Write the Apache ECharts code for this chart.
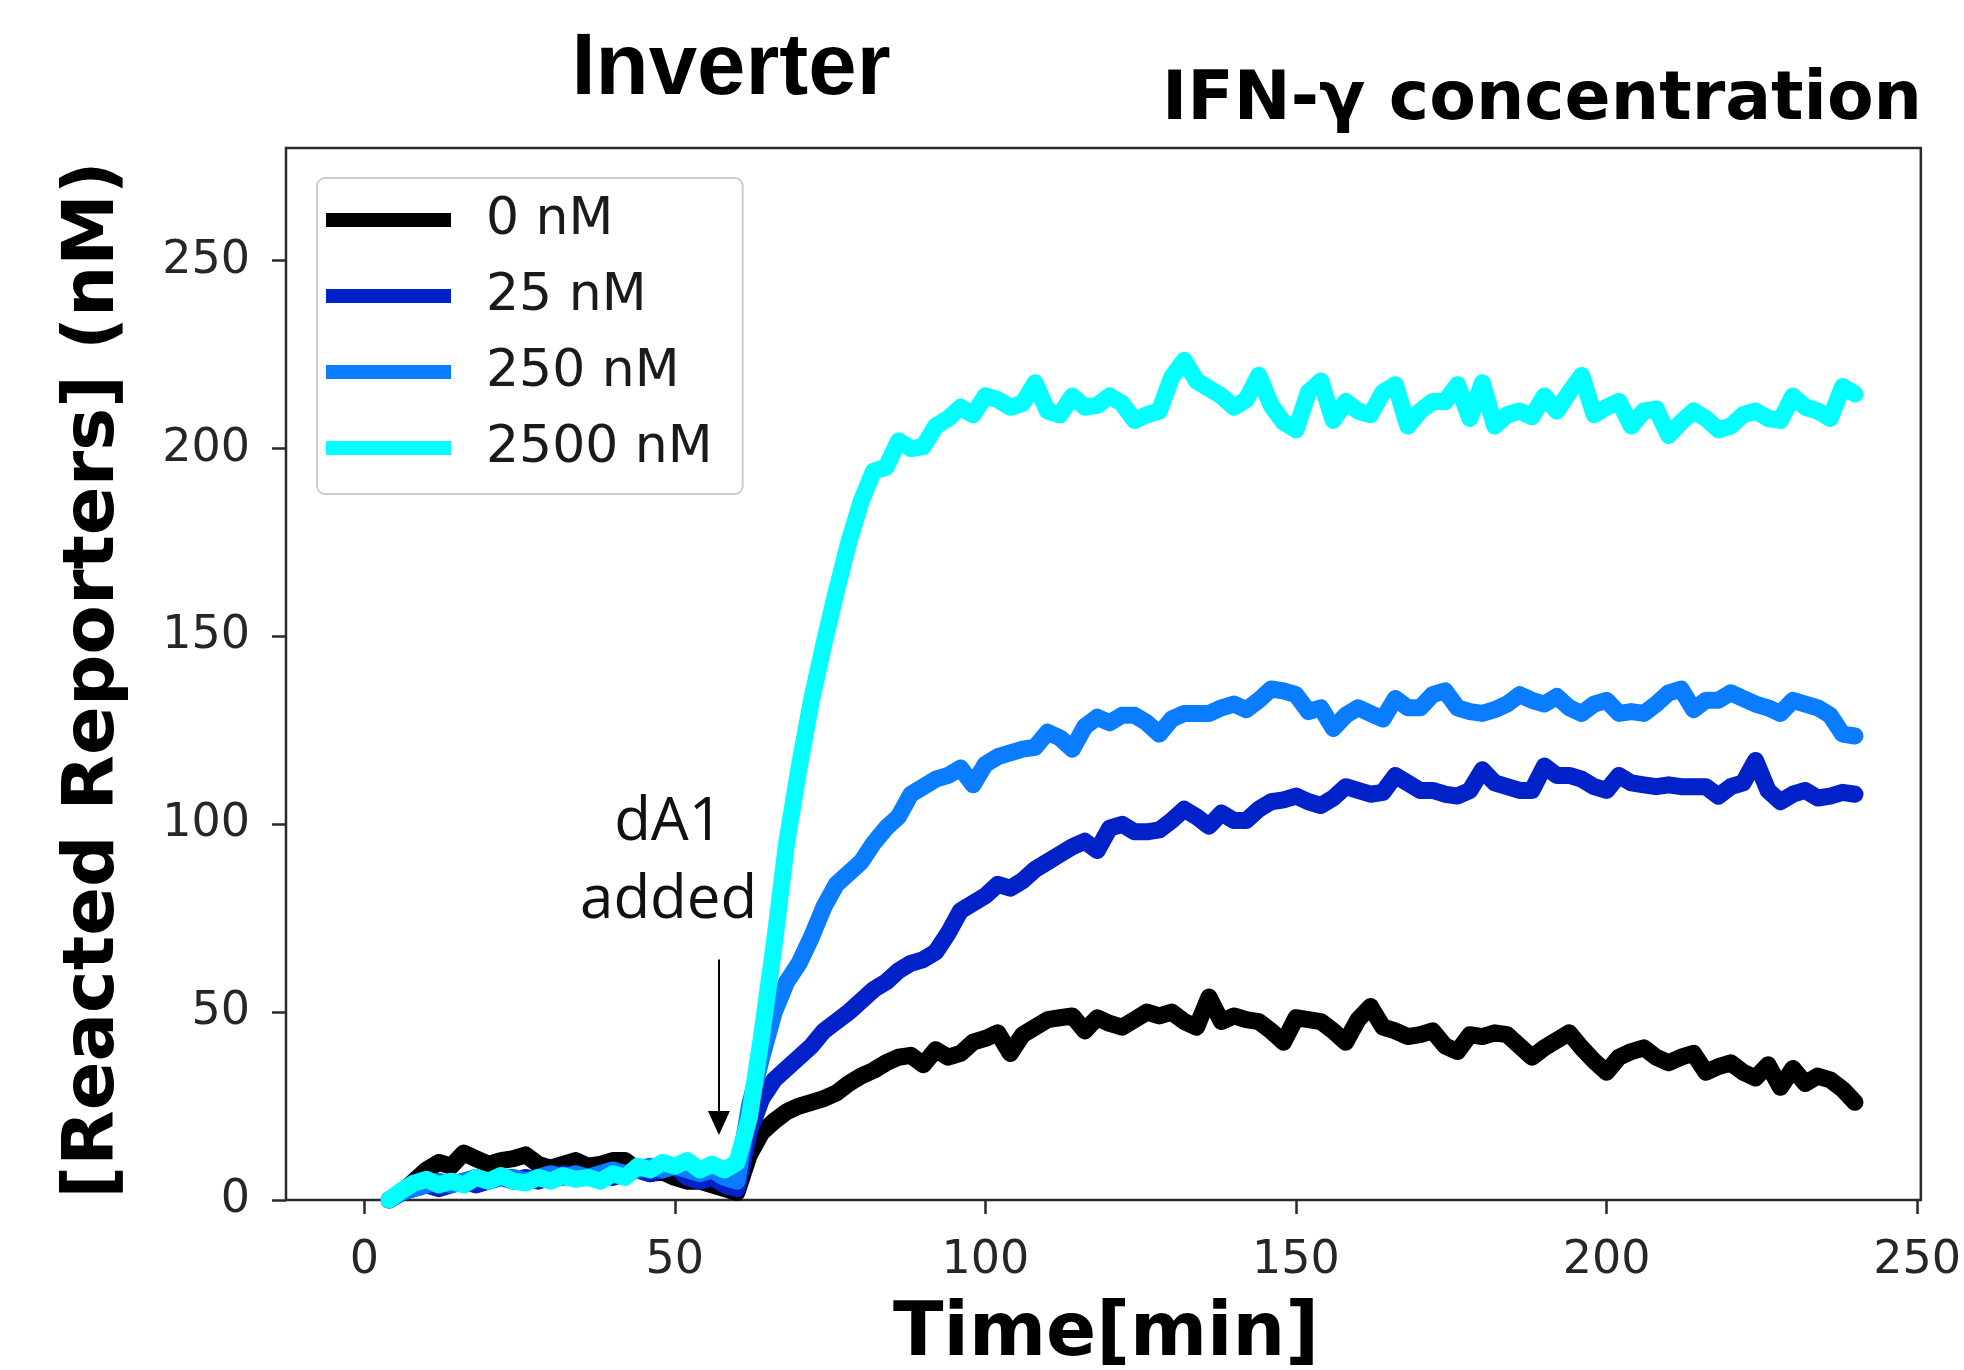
<!DOCTYPE html>
<html><head><meta charset="utf-8">
<script src="https://cdn.jsdelivr.net/npm/echarts@6/dist/echarts.min.js"></script>
<style>html,body{margin:0;padding:0;background:#fff}#c{width:1964px;height:1370px}</style>
</head><body><div id="c"></div>
<script>
// sampling times (min)
const time = [4,6,8,10,12,14,16,18,20,22,24,26,28,30,32,34,36,38,40,42,44,46,48,50,52,54,56,58,60,
62,64,66,68,70,72,74,76,78,80,82,84,86,88,90,92,94,96,98,100,102,104,106,108,110,112,114,116,118,120,
122,124,126,128,130,132,134,136,138,140,142,144,146,148,150,152,154,156,158,160,162,164,166,168,170,
172,174,176,178,180,182,184,186,188,190,192,194,196,198,200,202,204,206,208,210,212,214,216,218,220,
222,224,226,228,230,232,234,236,238,240];

const seriesNames = ['0 nM','25 nM','250 nM','2500 nM'];

const conc0 = [0,2,5,8,10,9,12.5,11,9.5,10.5,11,12,9.5,8.5,9.5,10.5,9,9.5,10.5,10.5,8,7,7.5,6,5,5,4,3,2,
12,18,21,23.5,25,26,27,28.5,31,33,34.5,36.5,38,38.5,36,40,38,39,42,43,44.5,39,44,46,48,48.5,49,45,48.5,47,
46,48,50,49,50,47.5,46,54,47.5,49,48,47.5,45,42,48.5,48,47.5,45,42,48,51.5,46,45,43.5,44,
45,41,39.5,44,43.5,44.5,44,41,38,40.5,42.5,44.5,40.5,37,34,38,39.5,40.5,38,36.5,38,39,34,35.5,36.5,
34,32.5,36,30,35,31,33,32,29.5,26];

const conc25 = [0,2,3,4,3,4,5,4,5,6,5,6,5,6,7,6,6,7,6,7,8,7,8,9,6,5,6,4,3,
18,27,32,35,38,41,45,47.5,50,53,56,58,61,63,64,66,71,77,79,81,84,83,85,88,90,92,94,95.5,93,99,
100,98,98,98.5,101,104,102,99.5,103,101,101,104,106,106.5,107.5,106,105,107,110,109,108,108.5,113,111,109,
109,108,107.5,109,114.5,111,110,109,109,115.5,113,113,112,110,109,113,111,110.5,110,110.5,110,110,110,107.5,110,
111,117,109,106,108,109,107,107.5,108.5,108];

const conc250 = [0,2,3,4,5,4,5,6,5,6,6,5,6,7,6,7,6,7,8,7,8,9,8,9,8,7,8,6,5,
25,38,50,58,63,70,78,84,87,90,95,99,102,108,110,112,113,115,110.5,116,118,119,120,120.5,124.5,123,120,126,128.5,127,
129,129,127,124,128,129.5,129.5,129.5,131,132,130.5,133,136,135.5,134.5,130,131,125.5,129,131,129.5,128,133.5,131,131,
134.5,135.5,131,130,129.5,130.5,132,134.5,133,132,134,131,129.5,132,133,129.5,130,129.5,132,135,136,130.5,133,133,135,
133.5,132,131,129.5,133,132,131,129,124,123.5];

const conc2500 = [0,2.5,4.5,5.5,4,5,4,6,5,6.5,5,4.5,6,5,6.5,5.5,6,5,7,6,9,8,10,9,10.5,8,9.5,8,10,
22,44,68,95,115,133,148,162,175,186,194,195,202,200,200.5,206,208,211,209,214,213,211,212,217.5,210,209,214,211,211.5,214,
212,207.5,209,210,219,223.5,218,216,214,211,213,219.5,211.5,207,205,215,218,207.5,212.5,210,209,215,217,206,210,
212.5,212.5,217,208,217.5,206,209,210,208.5,214,210,215,219.5,209,211,212.5,206,210,210.5,203.5,207,210,208,205,206,
209,210,208,207.5,214,211,210,208,216.5,214.5];

const xTicks = [0,50,100,150,200,250];
const yTicks = [0,50,100,150,200,250];
const xRange = [-12.6, 250.6];
const yRange = [0, 280];
// annotation: arrow from (x, top) down to (x, tip)
const arrowX = [57.1];
const arrowY = [64, 20.5];
const notePos = [49, 90];
const noteText = 'dA1\nadded';

const colors = ['#000000','#0022c8','#0a7cff','#00ffff'];
const allData = [conc0, conc25, conc250, conc2500];

const chart = echarts.init(document.getElementById('c'), null, {renderer:'canvas'});

const series = allData.map((arr, k) => {
  const s = {
    name: seriesNames[k],
    type: 'line',
    data: time.map((t, i) => [t, arr[i]]),
    showSymbol: false,
    symbol: 'none',
    z: 2 + k,
    lineStyle: {color: colors[k], width: 17, cap: 'round', join: 'round'},
    itemStyle: {color: colors[k]},
    emphasis: {disabled: true},
    animation: false
  };
  if (k === 0) {
    s.markLine = {
      silent: true,
      symbol: ['none', 'triangle'],
      symbolSize: [22, 24],
      label: {show: false},
      lineStyle: {color: '#000', width: 2, type: 'solid'},
      data: [[{coord: [arrowX[0], arrowY[0]]}, {coord: [arrowX[0], arrowY[1]]}]],
      animation: false
    };
    s.markPoint = {
      silent: true,
      symbol: 'circle',
      symbolSize: 0,
      label: {show: true, position: 'inside', formatter: noteText,
        fontFamily: '"Open Sans", "Noto Sans", sans-serif', fontSize: 60, lineHeight: 78, color: '#111'},
      data: [{coord: notePos}],
      animation: false
    };
  }
  return s;
});

const option = {
  backgroundColor: '#ffffff',
  animation: false,
  grid: {left: 286, top: 148, right: 37, bottom: 170, show: true, borderColor: '#2a2a2a', borderWidth: 2.5, backgroundColor: 'transparent'},
  xAxis: {
    type: 'value', min: xRange[0], max: xRange[1],
    splitLine: {show: false},
    axisLine: {show: false, onZero: false},
    axisTick: {show: true, inside: false, customValues: xTicks, length: 14, lineStyle: {color: '#2a2a2a', width: 2.5}},
    axisLabel: {customValues: xTicks, margin: 38, fontFamily: '"DejaVu Sans"', fontSize: 46, color: '#262626'}
  },
  yAxis: {
    type: 'value', min: yRange[0], max: yRange[1],
    splitLine: {show: false},
    axisLine: {show: false, onZero: false},
    axisTick: {show: true, inside: false, customValues: yTicks, length: 14, lineStyle: {color: '#2a2a2a', width: 2.5}},
    axisLabel: {customValues: yTicks, margin: 36, fontFamily: '"DejaVu Sans"', fontSize: 46, color: '#262626'}
  },
  legend: {
    show: true, orient: 'vertical', left: 317, top: 178,
    data: seriesNames,
    icon: 'rect', itemWidth: 125, itemHeight: 14, itemGap: 24,
    padding: [16, 30, 20, 9],
    backgroundColor: 'rgba(255,255,255,0.85)', borderColor: '#cccccc', borderWidth: 2, borderRadius: 8,
    textStyle: {fontFamily: '"DejaVu Sans"', fontSize: 52, color: '#1a1a1a', padding: [0, 0, 0, 30]},
    selectedMode: false
  },
  graphic: [
    {type: 'text', x: 731, y: 70, style: {text: 'Inverter', font: 'bold 87px "Liberation Sans", Arial, sans-serif', fill: '#000', textAlign: 'center', textVerticalAlign: 'middle', align: 'center', verticalAlign: 'middle'}},
    {type: 'text', x: 1542, y: 101, style: {text: 'IFN-γ concentration', font: 'bold 68px "DejaVu Sans", sans-serif', fill: '#000', textAlign: 'center', textVerticalAlign: 'middle', align: 'center', verticalAlign: 'middle'}},
    {type: 'text', x: 94, y: 680, rotation: Math.PI / 2, style: {text: '[Reacted Reporters] (nM)', font: 'bold 72px "DejaVu Sans", sans-serif', fill: '#000', textAlign: 'center', textVerticalAlign: 'middle', align: 'center', verticalAlign: 'middle'}},
    {type: 'text', x: 1106, y: 1336, style: {text: 'Time[min]', font: 'bold 74px "DejaVu Sans", sans-serif', fill: '#000', textAlign: 'center', textVerticalAlign: 'middle', align: 'center', verticalAlign: 'middle'}}
  ],
  series: series
};
chart.setOption(option);
</script>
</body></html>
